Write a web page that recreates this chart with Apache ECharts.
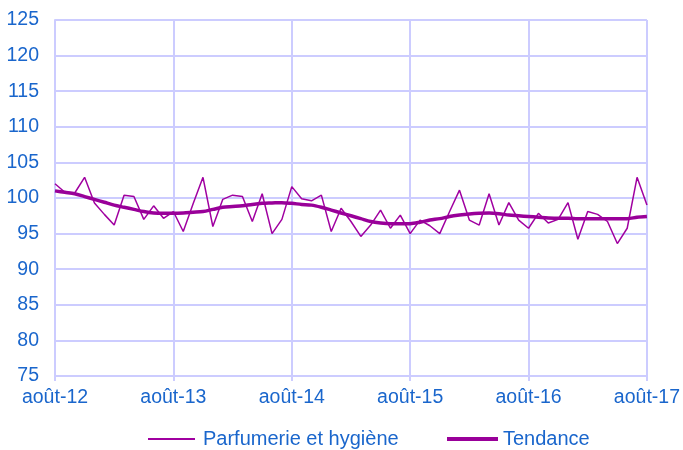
<!DOCTYPE html>
<html>
<head>
<meta charset="utf-8">
<script src="https://cdn.jsdelivr.net/npm/echarts@6/dist/echarts.min.js"></script>
<style>html,body{margin:0;padding:0;background:#fff}#c{width:683px;height:450px}</style>
</head>
<body>
<div id="c"></div>
<script>
var categories = [
"août-12","sept.-12","oct.-12","nov.-12","déc.-12",
"janv.-13","févr.-13","mars-13","avr.-13","mai-13","juin-13","juil.-13","août-13","sept.-13","oct.-13","nov.-13","déc.-13",
"janv.-14","févr.-14","mars-14","avr.-14","mai-14","juin-14","juil.-14","août-14","sept.-14","oct.-14","nov.-14","déc.-14",
"janv.-15","févr.-15","mars-15","avr.-15","mai-15","juin-15","juil.-15","août-15","sept.-15","oct.-15","nov.-15","déc.-15",
"janv.-16","févr.-16","mars-16","avr.-16","mai-16","juin-16","juil.-16","août-16","sept.-16","oct.-16","nov.-16","déc.-16",
"janv.-17","févr.-17","mars-17","avr.-17","mai-17","juin-17","juil.-17","août-17"
];
var parfumerie = [
102.0,100.8,100.7,102.9,99.3,97.7,96.2,100.4,100.2,97.0,98.9,97.15,
98.1,95.3,99.2,102.9,96.0,99.8,100.4,100.2,96.7,100.6,95.0,97.0,
101.6,99.9,99.6,100.4,95.3,98.55,96.7,94.6,96.2,98.3,95.75,97.6,
95.0,96.9,96.1,95.0,98.1,101.1,96.9,96.2,100.6,96.2,99.35,96.9,
95.75,97.85,96.5,97.0,99.35,94.2,98.1,97.7,96.7,93.6,95.75,102.9,
99.0
];
var tendance = [
101.0,100.8,100.6,100.2,99.8,99.4,99.0,98.7,98.4,98.1,97.9,97.85,
97.85,97.9,98.0,98.1,98.4,98.7,98.8,98.9,99.1,99.25,99.3,99.35,
99.25,99.1,99.0,98.7,98.3,97.9,97.5,97.1,96.7,96.5,96.4,96.4,
96.4,96.6,96.9,97.1,97.4,97.6,97.75,97.85,97.9,97.8,97.6,97.5,
97.4,97.3,97.2,97.15,97.15,97.1,97.1,97.1,97.1,97.1,97.1,97.3,
97.4
];
var seriesNames = ["Parfumerie et hygiène", "Tendance"];
var yMin = 75, yMax = 125, yStep = 5;

var chart = echarts.init(document.getElementById('c'), null, {renderer: 'canvas'});
var gridColor = '#ccccff';
var textColor = '#1a66cc';
var thinColor = '#a000a0';
var thickColor = '#990099';
var font = 'Liberation Sans, Arial, sans-serif';
chart.setOption({
  animation: false,
  backgroundColor: '#fff',
  grid: {left: 55, right: 36, top: 20, bottom: 74, containLabel: false},
  legend: [
    {
      left: 143, top: 424, icon: 'rect',
      itemWidth: 47, itemHeight: 2,
      textStyle: {color: textColor, fontSize: 20, fontFamily: font, padding: [0, 0, 0, 3]},
      data: [seriesNames[0]]
    },
    {
      left: 442, top: 424, icon: 'rect',
      itemWidth: 51, itemHeight: 4,
      textStyle: {color: textColor, fontSize: 20, fontFamily: font, padding: [0, 0, 0, 0]},
      data: [seriesNames[1]]
    }
  ],
  xAxis: {
    type: 'category', data: categories, boundaryGap: false,
    axisLine: {show: true, lineStyle: {color: gridColor, width: 2}},
    axisTick: {show: true, interval: 11, length: 5, lineStyle: {color: gridColor, width: 2}},
    axisLabel: {interval: 11, color: textColor, fontSize: 19.5, fontFamily: font, margin: 12},
    splitLine: {show: true, interval: 11, lineStyle: {color: gridColor, width: 2}}
  },
  yAxis: {
    type: 'value', min: yMin, max: yMax, interval: yStep,
    axisLine: {show: true, lineStyle: {color: gridColor, width: 2}},
    axisTick: {show: false},
    axisLabel: {color: textColor, fontSize: 19.5, fontFamily: font, margin: 16},
    splitLine: {show: true, lineStyle: {color: gridColor, width: 2}}
  },
  series: [
    {name: seriesNames[0], type: 'line', data: parfumerie, symbol: 'none',
     lineStyle: {color: thinColor, width: 1.5}, itemStyle: {color: thinColor}},
    {name: seriesNames[1], type: 'line', data: tendance, symbol: 'none', smooth: 0.3,
     lineStyle: {color: thickColor, width: 3.5}, itemStyle: {color: thickColor}}
  ]
});
</script>
</body>
</html>
